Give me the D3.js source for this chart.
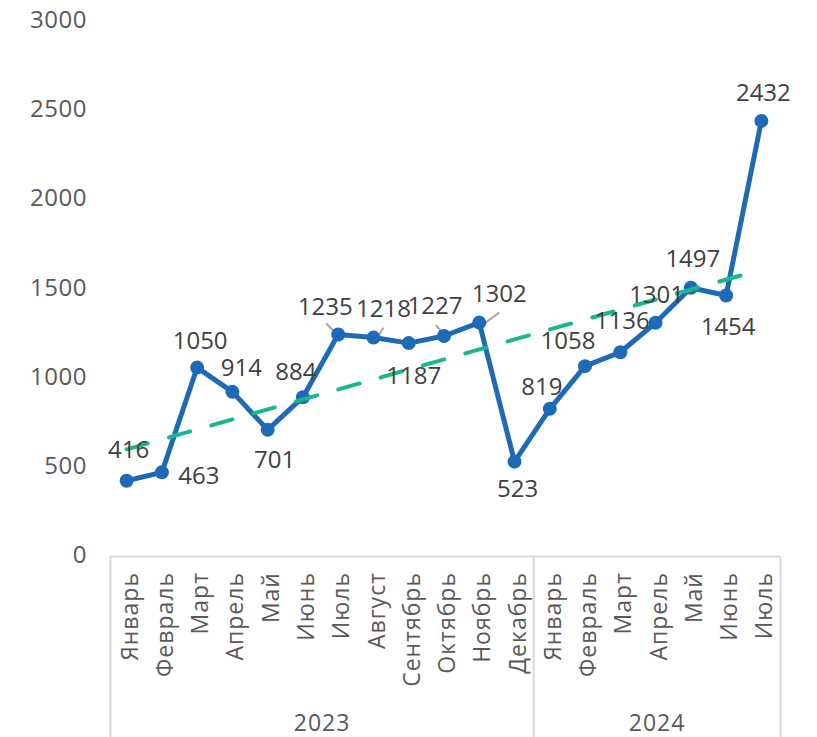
<!DOCTYPE html>
<html>
<head>
<meta charset="utf-8">
<script src="https://cdn.jsdelivr.net/npm/d3@7"></script>
<style>
  body { margin: 0; background: #fff; }
  text { font-family: "Open Sans", "Noto Sans", sans-serif; fill: #595959; }
</style>
</head>
<body>
<div id="chart"></div>
<script>
// data
let months = ["Январь", "Февраль", "Март", "Апрель", "Май", "Июнь", "Июль", "Август", "Сентябрь", "Октябрь", "Ноябрь", "Декабрь",
              "Январь", "Февраль", "Март", "Апрель", "Май", "Июнь", "Июль"]
let years = ["2023", "2024"]
let yearCounts = [12, 7]
let values = [416, 463, 1050, 914, 701, 884, 1235, 1218, 1187, 1227, 1302, 523, 819, 1058, 1136, 1301, 1497, 1454, 2432]
let trendValues = [592, 1599]   // linear trend at first and last month
let yTicks = [0, 500, 1000, 1500, 2000, 2500, 3000]

// label placement (offsets from the point, px)
let labelOffsets = [[2, -23], [37, 12], [3, -19], [9, -16], [7, 38], [-7, -17], [-13, -20], [10, -21], [5, 41], [-9, -22],
                    [20, -21], [3, 35], [-8, -14], [-17, -17], [2, -23], [1, -20], [2, -21], [2, 40], [2, -20]]
let leaders = {6: [-12, -11, 3, 4], 7: [10, -10, 3, 2], 9: [-8, -11, 2, 2], 10: [20, -10, 2, 3]}

let width = 817, height = 737
let blue = "#1e6ab6", green = "#16b88c", axisGrey = "#d9d9d9"

let svg = d3.select("#chart").append("svg")
    .attr("width", width)
    .attr("height", height)

let x = d3.scaleBand().domain(d3.range(months.length)).range([109, 779]).padding(0)
let y = d3.scaleLinear().domain([0, 3000]).range([555, 19.5])
let cx = i => x(i) + x.bandwidth() / 2

// y axis labels
svg.selectAll(".ytick")
    .data(yTicks)
    .enter()
    .append("text")
    .attr("class", "ytick")
    .attr("x", 87)
    .attr("y", d => y(d))
    .attr("dy", "0.35em")
    .attr("text-anchor", "end")
    .style("font-size", "24px")
    .style("letter-spacing", "0.5px")
    .text(d => d)

// category axis frame
let axisY = y(0) + 1.5
svg.append("line")
    .attr("x1", x(0) + 1).attr("x2", x.range()[1] + 1)
    .attr("y1", axisY).attr("y2", axisY)
    .attr("stroke", axisGrey).attr("stroke-width", 2)

let edges = [0]
yearCounts.forEach((c, i) => edges.push(edges[i] + c))
svg.selectAll(".divider")
    .data(edges)
    .enter()
    .append("line")
    .attr("class", "divider")
    .attr("x1", d => (d < months.length ? x(d) : x.range()[1]) + 1.5)
    .attr("x2", d => (d < months.length ? x(d) : x.range()[1]) + 1.5)
    .attr("y1", axisY)
    .attr("y2", height)
    .attr("stroke", axisGrey).attr("stroke-width", 2)

// month labels
svg.selectAll(".month")
    .data(months)
    .enter()
    .append("text")
    .attr("class", "month")
    .attr("transform", (d, i) => `translate(${cx(i) + 3}, 572) rotate(-90)`)
    .attr("dy", "0.35em")
    .attr("text-anchor", "end")
    .style("font-size", "23px")
    .style("letter-spacing", "1px")
    .text(d => d)

// year labels
svg.selectAll(".year")
    .data(years)
    .enter()
    .append("text")
    .attr("class", "year")
    .attr("x", (d, i) => {
        let a = x(edges[i]), b = edges[i + 1] < months.length ? x(edges[i + 1]) : x.range()[1]
        return (a + b) / 2 + 1.5
    })
    .attr("y", 731)
    .attr("text-anchor", "middle")
    .style("font-size", "23px")
    .style("letter-spacing", "1px")
    .text(d => d)

// main line
let line = d3.line().x((d, i) => cx(i)).y(d => y(d))
svg.append("path")
    .datum(values)
    .attr("d", line)
    .attr("fill", "none")
    .attr("stroke", blue)
    .attr("stroke-width", 5)
    .attr("stroke-linejoin", "round")

// leader lines
svg.selectAll(".leader")
    .data(Object.keys(leaders))
    .enter()
    .append("line")
    .attr("class", "leader")
    .attr("x1", k => cx(+k) + leaders[k][0])
    .attr("y1", k => y(values[k]) + leaders[k][1])
    .attr("x2", k => cx(+k) + leaders[k][2])
    .attr("y2", k => y(values[k]) + leaders[k][3])
    .attr("stroke", "#a6a6a6")
    .attr("stroke-width", 2)

// markers
svg.selectAll(".dot")
    .data(values)
    .enter()
    .append("circle")
    .attr("class", "dot")
    .attr("cx", (d, i) => cx(i))
    .attr("cy", d => y(d))
    .attr("r", 7)
    .attr("fill", blue)

// trend line
svg.append("line")
    .attr("x1", cx(0)).attr("y1", y(trendValues[0]))
    .attr("x2", cx(months.length - 1)).attr("y2", y(trendValues[1]))
    .attr("stroke", green)
    .attr("stroke-width", 4)
    .attr("stroke-dasharray", "22,22")
    .attr("stroke-linecap", "round")

// data labels
svg.selectAll(".vlabel")
    .data(values)
    .enter()
    .append("text")
    .attr("class", "vlabel")
    .attr("x", (d, i) => cx(i) + labelOffsets[i][0])
    .attr("y", (d, i) => y(d) + labelOffsets[i][1])
    .attr("text-anchor", "middle")
    .style("font-size", "24px")
    .style("fill", "#404040")
    .text(d => d)
</script>
</body>
</html>
